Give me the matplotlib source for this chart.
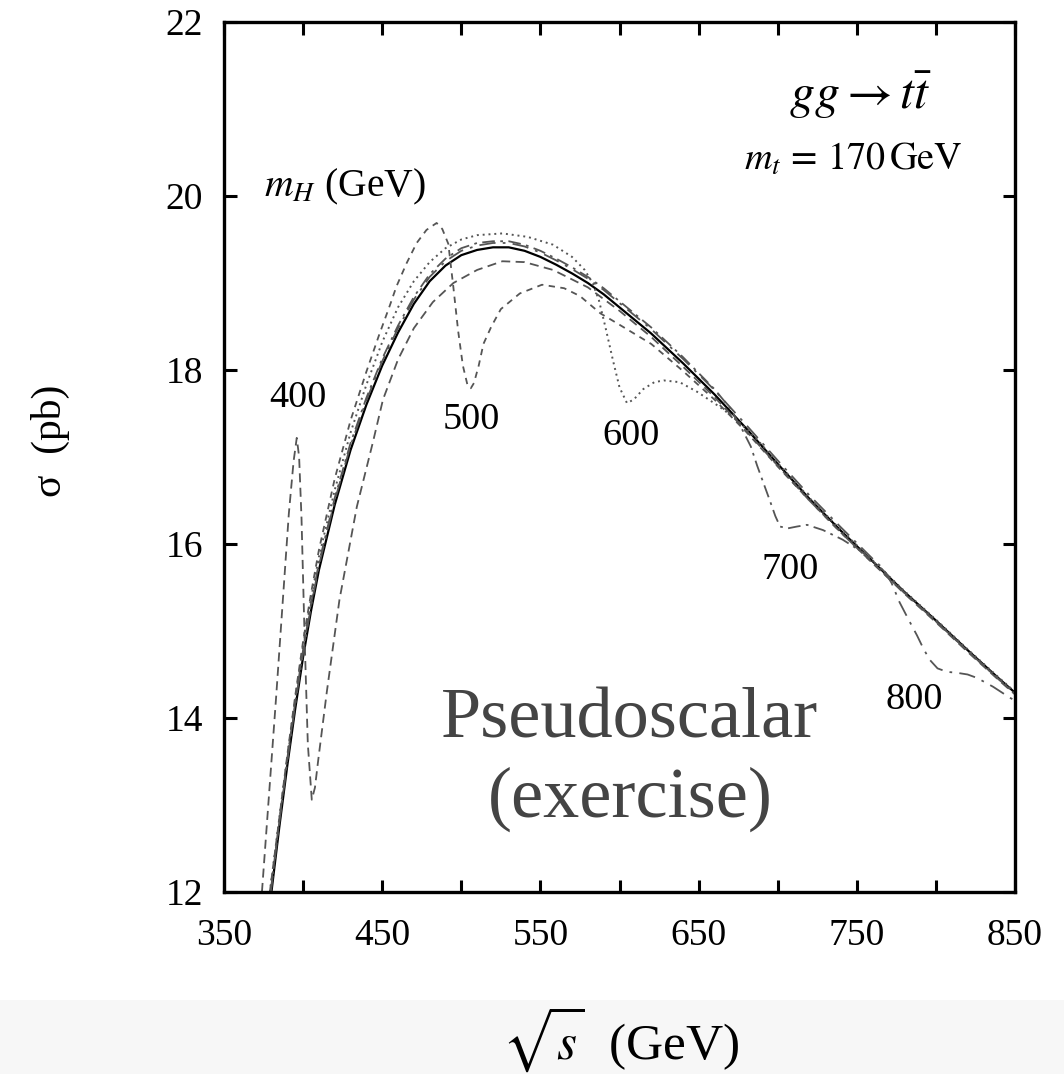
import numpy as np
import matplotlib
matplotlib.use("Agg")
import matplotlib.pyplot as plt
from matplotlib.patches import Rectangle

plt.rcParams['font.family'] = ['Liberation Serif', 'DejaVu Serif']
plt.rcParams['mathtext.fontset'] = 'stix'

# Values: sqrt(s) in GeV, sigma in pb

# no-Higgs curve (solid)
base_x = [380, 385, 390, 395, 400, 405, 410, 420, 430, 440, 450, 460, 470, 480, 490,
          500, 510, 520, 530, 540, 550, 560, 570, 580, 590, 600, 620, 640, 660, 680,
          700, 720, 740, 760, 780, 800, 820, 840, 850]
base_y = [12.0, 12.75, 13.45, 14.1, 14.7, 15.23, 15.7, 16.45, 17.08, 17.6, 18.05, 18.43,
          18.76, 19.02, 19.2, 19.32, 19.38, 19.41, 19.41, 19.37, 19.3, 19.21, 19.11,
          19.0, 18.87, 18.72, 18.42, 18.08, 17.72, 17.33, 16.92, 16.52, 16.15, 15.8,
          15.45, 15.12, 14.78, 14.45, 14.29]

# m_H = 400
mh400_x = [374, 378, 383, 387, 391, 394, 396, 397.5, 399, 401, 403, 405.5, 407.5,
           409.6, 415, 423, 434, 444, 450.5, 460, 470, 482, 495, 510, 526, 540, 558,
           580, 600, 620, 640, 660, 680, 700, 720, 740, 760, 780, 800, 820, 840, 850]
mh400_y = [12.0, 13.0, 14.25, 15.3, 16.35, 16.95, 17.22, 17.0, 16.3, 14.9, 13.7, 13.06,
           13.2, 13.52, 14.3, 15.36, 16.43, 17.16, 17.66, 18.12, 18.48, 18.78, 19.0,
           19.15, 19.25, 19.24, 19.15, 18.95, 18.68, 18.38, 18.04, 17.69, 17.3, 16.9,
           16.5, 16.13, 15.78, 15.43, 15.1, 14.76, 14.43, 14.27]

# m_H = 500
mh500_x = [379, 385, 390, 395, 400, 405, 410, 420, 430, 440, 448, 455, 459, 465.5,
           471.8, 478, 484.4, 488, 491.8, 495, 498, 501, 504, 506, 508, 511, 514, 519,
           525, 537, 551, 565, 575, 588, 600, 620, 640, 660, 680, 700, 720, 740, 760,
           780, 800, 820, 840, 850]
mh500_y = [12.0, 12.85, 13.57, 14.25, 14.88, 15.43, 15.93, 16.75, 17.42, 17.98, 18.4,
           18.75, 18.96, 19.23, 19.46, 19.61, 19.69, 19.62, 19.45, 18.95, 18.45, 18.05,
           17.82, 17.79, 17.85, 18.05, 18.3, 18.5, 18.7, 18.88, 18.98, 18.94, 18.85,
           18.65, 18.52, 18.3, 17.99, 17.66, 17.29, 16.89, 16.5, 16.13, 15.78, 15.44,
           15.11, 14.77, 14.44, 14.28]

# m_H = 600
mh600_x = [379, 385, 390, 395, 400, 405, 410, 420, 430, 440, 450, 460, 470, 480, 490,
           500, 510, 526, 542, 558, 570, 578, 583, 587, 591, 596, 600, 604.7, 609, 615,
           622, 628, 638, 649, 663, 674, 687, 700, 720, 740, 760, 780, 800, 820, 840, 850]
mh600_y = [12.0, 12.85, 13.55, 14.22, 14.83, 15.37, 15.85, 16.62, 17.28, 17.83, 18.32,
           18.72, 19.02, 19.24, 19.4, 19.5, 19.55, 19.57, 19.53, 19.44, 19.3, 19.15,
           19.0, 18.8, 18.5, 18.1, 17.8, 17.62, 17.66, 17.78, 17.86, 17.88, 17.86, 17.75,
           17.58, 17.43, 17.2, 16.93, 16.53, 16.16, 15.81, 15.46, 15.13, 14.79, 14.46,
           14.3]

# m_H = 700
mh700_x = [379.5, 385, 390, 395, 400, 405, 410, 420, 430, 440, 450, 460, 470, 480, 490,
           500, 510, 520, 530, 540, 550, 560, 570, 580, 590, 600, 620, 640, 660, 670,
           678, 683, 687, 691, 695, 698.5, 701.5, 706.5, 712, 718.5, 728.6, 741, 754,
           766.5, 780, 800, 820, 840, 850]
mh700_y = [12.0, 12.83, 13.53, 14.18, 14.78, 15.31, 15.78, 16.53, 17.16, 17.68, 18.13,
           18.51, 18.84, 19.1, 19.28, 19.4, 19.46, 19.48, 19.48, 19.44, 19.37, 19.28,
           19.18, 19.07, 18.94, 18.79, 18.49, 18.15, 17.78, 17.56, 17.3, 17.12, 16.9,
           16.7, 16.5, 16.32, 16.2, 16.18, 16.2, 16.22, 16.16, 16.05, 15.9, 15.7, 15.44,
           15.11, 14.77, 14.44, 14.28]

# m_H = 800
mh800_x = [379.6, 385, 390, 395, 400, 405, 410, 420, 430, 440, 450, 460, 470, 480, 490,
           500, 510, 520, 530, 540, 550, 560, 570, 580, 590, 600, 620, 640, 660, 680,
           700, 720, 740, 760, 766.5, 772, 777, 783, 788, 792, 796, 801, 807, 813, 820,
           826, 836, 847, 850]
mh800_y = [12.0, 12.8, 13.5, 14.15, 14.75, 15.28, 15.75, 16.5, 17.13, 17.65, 18.1, 18.48,
           18.81, 19.07, 19.25, 19.37, 19.43, 19.46, 19.46, 19.42, 19.35, 19.26, 19.16,
           19.05, 18.92, 18.77, 18.47, 18.13, 17.77, 17.37, 16.96, 16.56, 16.19, 15.83,
           15.72, 15.55, 15.33, 15.12, 14.95, 14.8, 14.67, 14.57, 14.53, 14.52, 14.5,
           14.46, 14.36, 14.23, 14.2]

mass_labels = ['400', '500', '600', '700', '800']
mass_label_x = [396.8, 506.1, 607.3, 707.8, 786.2]
mass_label_y = [17.68, 17.43, 17.24, 15.70, 14.21]

x_ticks = [350, 400, 450, 500, 550, 600, 650, 700, 750, 800, 850]
y_ticks = [12, 14, 16, 18, 20, 22]


def main():
    fig = plt.figure(figsize=(10.64, 10.74), dpi=100)
    ax = fig.add_axes([0.2105, 0.1695, 0.7435, 0.81])

    grey = '#555555'
    ax.plot(base_x, base_y, color='black', lw=1.6, ls='-')
    ax.plot(mh400_x, mh400_y, color=grey, lw=1.3, ls=(0, (5, 3)))
    ax.plot(mh500_x, mh500_y, color=grey, lw=1.3, ls=(0, (3.5, 3)))
    ax.plot(mh600_x, mh600_y, color=grey, lw=1.4, ls=(0, (1, 2)))
    ax.plot(mh700_x, mh700_y, color=grey, lw=1.3, ls=(0, (7, 3, 1.5, 3)))
    ax.plot(mh800_x, mh800_y, color=grey, lw=1.3, ls=(0, (9, 4, 1.5, 4)))

    ax.set_xlim(350, 850)
    ax.set_ylim(12, 22)
    ax.set_xticks(x_ticks)
    ax.set_xticklabels([str(t) if t % 100 == 50 else '' for t in x_ticks])
    ax.set_yticks(y_ticks)
    ax.tick_params(direction='in', length=9, width=2.2, labelsize=27,
                   top=True, right=True)
    ax.tick_params(axis='x', pad=19)
    ax.tick_params(axis='y', pad=15)
    for sp in ax.spines.values():
        sp.set_linewidth(2.4)

    for lab, lx, ly in zip(mass_labels, mass_label_x, mass_label_y):
        ax.text(lx, ly, lab, fontsize=27.5, ha='center', va='center')

    ax.text(426.5, 20.1, r'$m_H$ (GeV)', fontsize=28.5, ha='center', va='center')
    ax.text(752, 21.16, r'$gg \rightarrow t\bar{t}$', fontsize=36, ha='center', va='center')
    ax.text(747.6, 20.41, r'$m_t\,=\,170\,\mathrm{GeV}$', fontsize=27.5, ha='center', va='center')
    ax.text(606.6, 13.98, 'Pseudoscalar', fontsize=52, color='#444444',
            ha='center', va='center')
    ax.text(606.6, 13.06, '(exercise)', fontsize=52, color='#444444',
            ha='center', va='center')

    fig.text(0.047, 0.59, 'σ  (pb)', fontsize=30, rotation=90, ha='center', va='center')

    # grey band holding the x label
    fig.patches.append(Rectangle((0, 0), 1, 0.069, transform=fig.transFigure,
                                 facecolor='#f7f7f7', edgecolor='none', zorder=0))
    fig.text(0.583, 0.032, r'$\sqrt{s}$  (GeV)', fontsize=37, ha='center', va='center')

    fig.savefig('out.png', dpi=100)


if __name__ == "__main__":
    main()
